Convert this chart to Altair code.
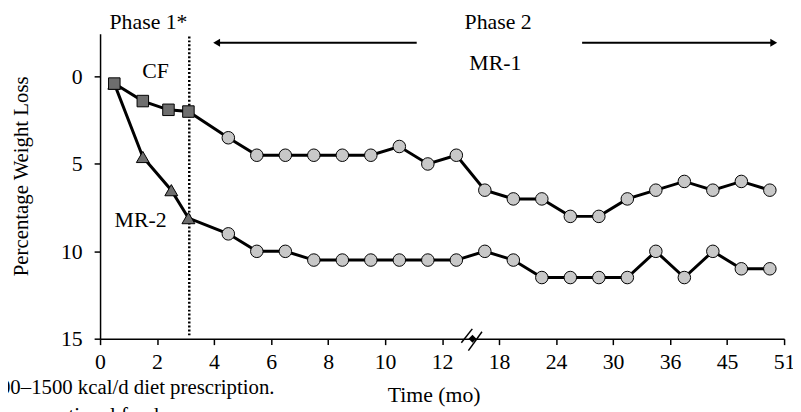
import altair as alt
import pandas as pd

# ---------------- data ----------------
x_ticks = [0, 2, 4, 6, 8, 10, 12, 18, 24, 30, 36, 45, 51]
y_ticks = [0, 5, 10, 15]

cf_months = [0.5, 1.5, 2.4, 3.1]
cf_loss = [0.4, 1.4, 1.9, 2.0]
mr2_months = [0.5, 1.5, 2.5, 3.1]
mr2_loss = [0.4, 4.6, 6.5, 8.1]

phase2_months = [4.5, 5.5, 6.5, 7.5, 8.5, 9.5, 10.5, 11.5, 13.5, 16.5,
                 19.5, 22.5, 25.5, 28.5, 31.5, 34.5, 38.25, 42.75, 46.5, 49.5]
upper_loss = [3.5, 4.5, 4.5, 4.5, 4.5, 4.5, 4.0, 5.0, 4.5, 6.5,
              7.0, 7.0, 8.0, 8.0, 7.0, 6.5, 6.0, 6.5, 6.0, 6.5]
lower_loss = [9.0, 10.0, 10.0, 10.5, 10.5, 10.5, 10.5, 10.5, 10.5, 10.0,
              10.5, 11.5, 11.5, 11.5, 11.5, 10.0, 11.5, 10.0, 11.0, 11.0]

phase_boundary = 3.13

labels_text = ["Phase 1*", "Phase 2", "MR-1", "CF", "MR-2"]
labels_x = [1.70, 17.9, 17.6, 1.95, 1.42]
labels_y = [-2.71, -2.71, -0.39, 0.1, 8.58]

foot_text = ["*1200–1500 kcal/d diet prescription.", "CF, conventional foods."]
foot_x = [6.12, -4.41]
foot_y = [18.17, 19.75]
foot_align = ["right", "left"]

# ---------------- layout ----------------
W, H = 691, 308
FONT = "Liberation Serif, Times New Roman, Times, DejaVu Serif, serif"
FS = 22
x_range = [i * W / (len(x_ticks) - 1) for i in range(len(x_ticks))]

rows = []
for i, (m, v) in enumerate(zip(cf_months + phase2_months, cf_loss + upper_loss)):
    rows.append({"month": m, "loss": v, "series": "CF/MR-1", "order": i,
                 "marker": "square" if i < len(cf_months) else "circle"})
for i, (m, v) in enumerate(zip(mr2_months + phase2_months, mr2_loss + lower_loss)):
    rows.append({"month": m, "loss": v, "series": "MR-2/MR-1", "order": i,
                 "marker": "triangle" if i < len(mr2_months) else "circle"})
df = pd.DataFrame(rows)

xs = alt.Scale(domain=x_ticks, range=x_range, nice=False, zero=False)
ys = alt.Scale(domain=[-2.45, 15], reverse=True, nice=False, zero=False)

x_axis = alt.Axis(values=x_ticks, format="d", labelFont=FONT, labelFontSize=FS,
                  labelColor="black", tickColor="black", domainColor="black",
                  tickSize=6, tickWidth=1.5, domainWidth=1.5, labelPadding=7,
                  labelFlush=False, labelOverlap=False, grid=False,
                  title="Time (mo)", titleFont=FONT, titleFontSize=FS,
                  titleFontWeight="normal", titleColor="black",
                  titleX=337, titleY=63, titleBaseline="alphabetic", titleAlign="center")
y_axis = alt.Axis(values=y_ticks, labelFont=FONT, labelFontSize=FS,
                  labelColor="black", tickColor="black", domainColor="black",
                  tickSize=6, tickWidth=1.5, domainWidth=1.5, labelPadding=12,
                  grid=False, title="Percentage Weight Loss", titleFont=FONT,
                  titleFontSize=21, titleFontWeight="normal", titleColor="black",
                  titleAngle=270, titleX=-73, titleY=143.5,
                  titleBaseline="alphabetic", titleAlign="center")

base = alt.Chart(df)
X = alt.X("month:Q", scale=xs, axis=x_axis)
Y = alt.Y("loss:Q", scale=ys, axis=y_axis)

lines = base.mark_line(color="black", strokeWidth=3).encode(
    x=X, y=Y, detail="series:N", order="order:Q")

circles = base.transform_filter(alt.datum.marker == "circle").mark_point(
    shape="circle", filled=True, fill="#c8c8c8", stroke="black", strokeWidth=1,
    size=160, opacity=1).encode(x=X, y=Y)
triangles = base.transform_filter(alt.datum.marker == "triangle").mark_point(
    shape="triangle-up", filled=True, fill="#6e6e6e", stroke="black", strokeWidth=1,
    size=170, opacity=1).encode(x=X, y=Y)
squares = base.transform_filter(alt.datum.marker == "square").mark_point(
    shape="square", filled=True, fill="#6e6e6e", stroke="black", strokeWidth=1,
    size=135, opacity=1).encode(x=X, y=Y)

# phase boundary (dotted)
vline = alt.Chart(pd.DataFrame({"month": [phase_boundary], "y": [-2.3], "y2": [14.85]})).mark_rule(
    color="black", strokeWidth=2.5, strokeDash=[2, 2]).encode(
    x=alt.X("month:Q", scale=xs), y=alt.Y("y:Q", scale=ys), y2="y2:Q")

# arrows
arrow_df = pd.DataFrame({"x": [4.09, 26.74], "x2": [11.11, 49.91], "y": [-1.94, -1.94]})
arrow_lines = alt.Chart(arrow_df).mark_rule(color="black", strokeWidth=2).encode(
    x=alt.X("x:Q", scale=xs), x2="x2:Q", y=alt.Y("y:Q", scale=ys))
head_l = alt.Chart(pd.DataFrame({"x": [4.09], "y": [-1.94]})).mark_point(
    shape="triangle-left", filled=True, color="black", size=64, opacity=1).encode(
    x=alt.X("x:Q", scale=xs), y=alt.Y("y:Q", scale=ys))
head_r = alt.Chart(pd.DataFrame({"x": [49.91], "y": [-1.94]})).mark_point(
    shape="triangle-right", filled=True, color="black", size=64, opacity=1).encode(
    x=alt.X("x:Q", scale=xs), y=alt.Y("y:Q", scale=ys))

# axis break marker
brk_df = pd.DataFrame({"x": [14.03, 14.77], "x2": [15.18, 16.2], "y": [15.23, 15.68], "y2": [14.44, 14.6]})
brk_lines = alt.Chart(brk_df).mark_rule(color="black", strokeWidth=1.5).encode(
    x=alt.X("x:Q", scale=xs), x2="x2:Q", y=alt.Y("y:Q", scale=ys), y2="y2:Q")
brk_fill = alt.Chart(pd.DataFrame({"x": [15.2], "y": [15.0]})).mark_point(
    shape="diamond", filled=True, color="black", size=64, opacity=1).encode(
    x=alt.X("x:Q", scale=xs), y=alt.Y("y:Q", scale=ys))

# text annotations
txt_df = pd.DataFrame({"label": labels_text, "x": labels_x, "y": labels_y})
texts = alt.Chart(txt_df).mark_text(font=FONT, fontSize=FS, color="black",
                                    align="center", baseline="alphabetic").encode(
    x=alt.X("x:Q", scale=xs), y=alt.Y("y:Q", scale=ys), text="label:N")

foot_df = pd.DataFrame({"label": foot_text, "x": foot_x, "y": foot_y, "align": foot_align})
foot_r = alt.Chart(foot_df).transform_filter(alt.datum.align == "right").mark_text(
    font=FONT, fontSize=21, color="black", align="right", baseline="alphabetic").encode(
    x=alt.X("x:Q", scale=xs), y=alt.Y("y:Q", scale=ys), text="label:N")
foot_l = alt.Chart(foot_df).transform_filter(alt.datum.align == "left").mark_text(
    font=FONT, fontSize=21, color="black", align="left", baseline="alphabetic").encode(
    x=alt.X("x:Q", scale=xs), y=alt.Y("y:Q", scale=ys), text="label:N")

chart = alt.layer(
    vline, arrow_lines, head_l, head_r, lines, circles, triangles, squares,
    brk_lines, brk_fill, texts, foot_r, foot_l
).properties(
    width=W, height=H,
    padding={"left": 93, "top": 24, "right": 9, "bottom": 72},
    autosize=alt.AutoSizeParams(type="none"),
).configure_view(strokeOpacity=0)

chart.save("out.html", embed_options={"renderer": "svg", "actions": False})
